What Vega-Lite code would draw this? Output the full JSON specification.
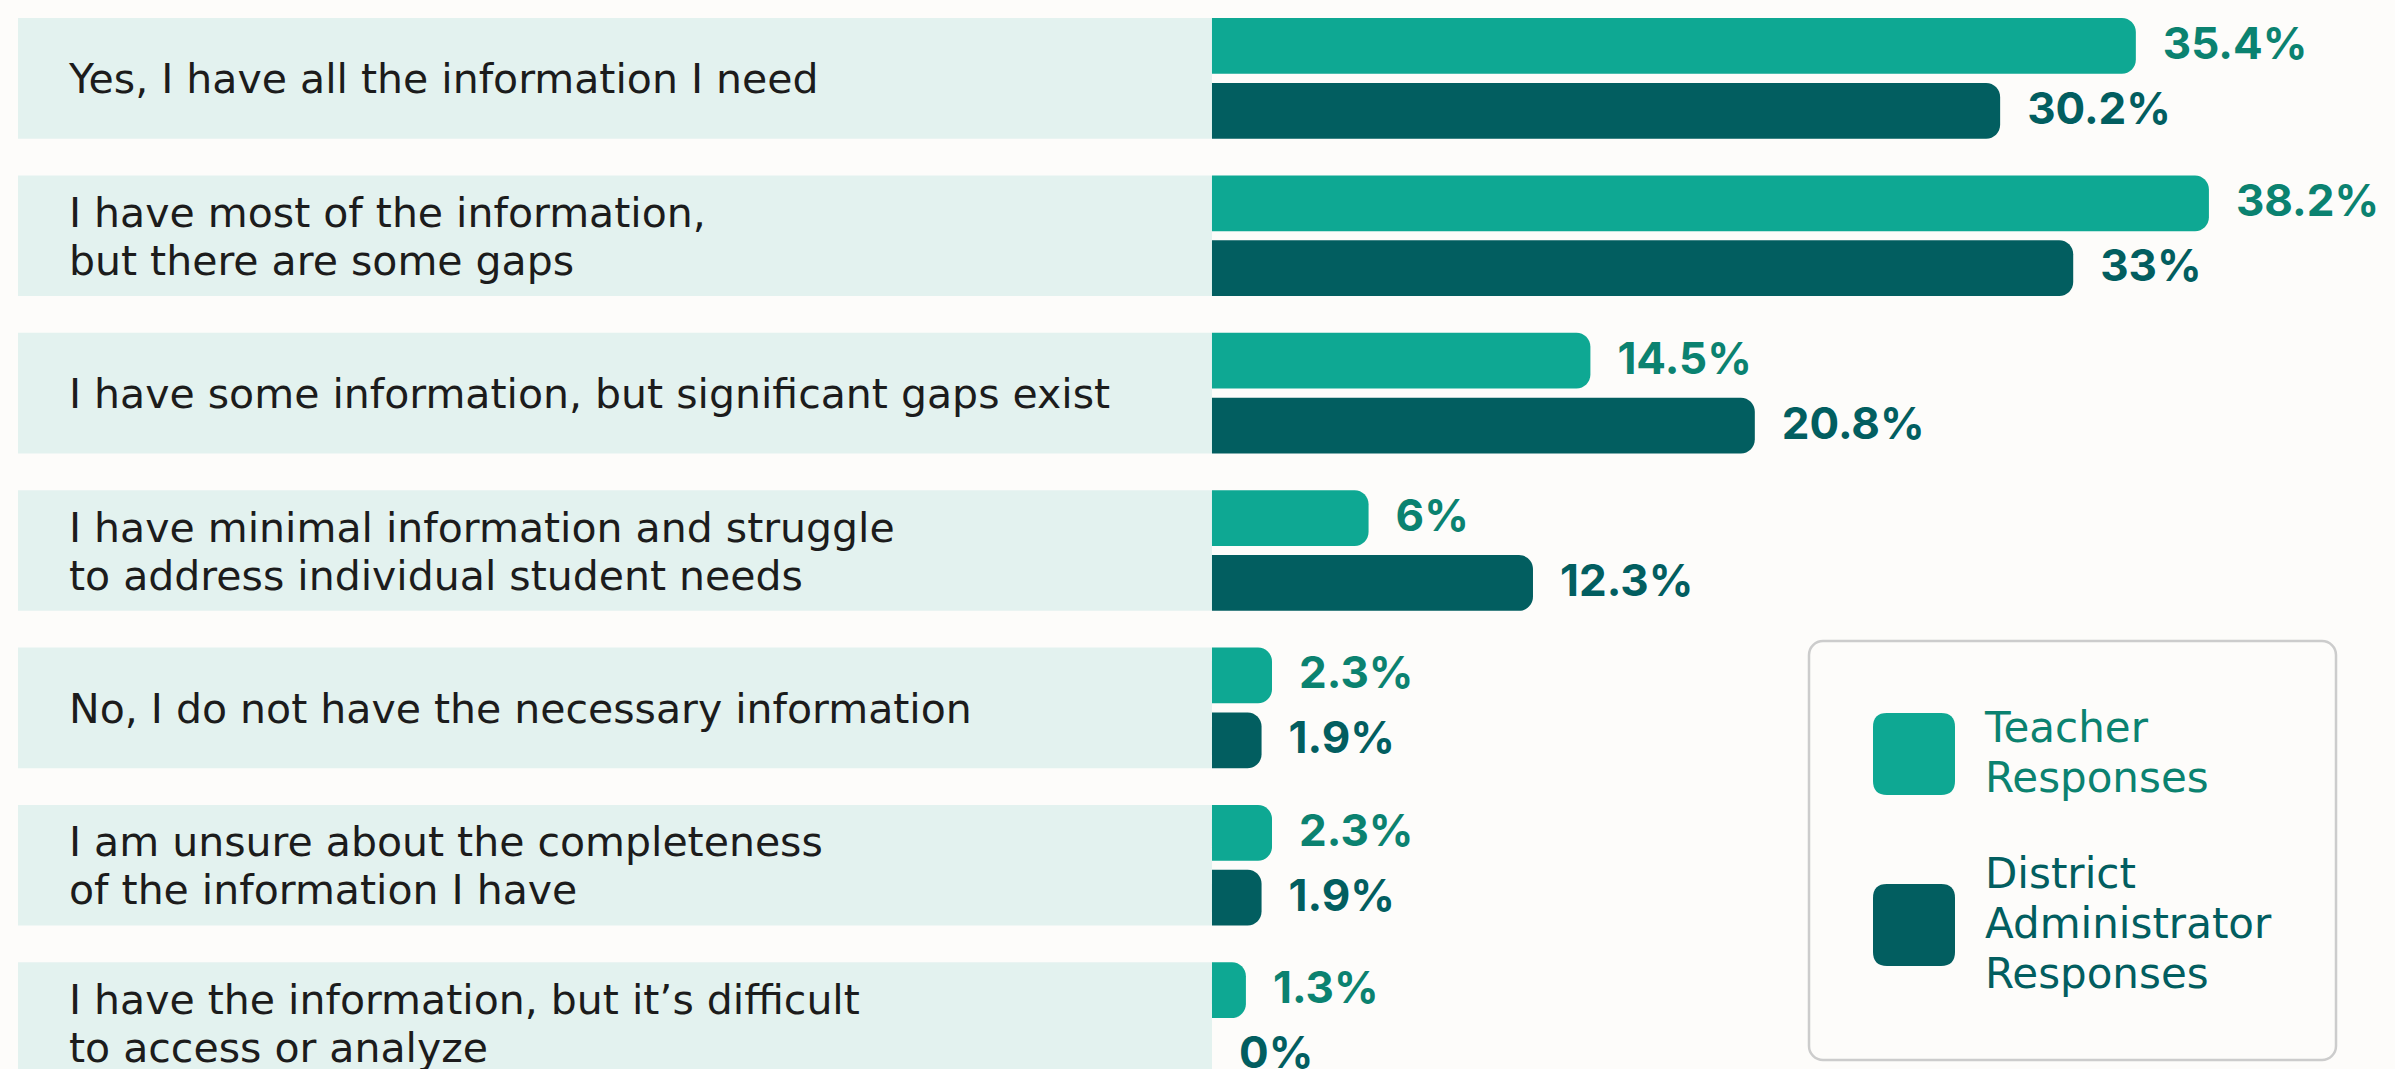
{
  "$schema": "https://vega.github.io/schema/vega-lite/v6.json",
  "width": 2377,
  "height": 1065,
  "padding": {"left": 18, "top": 18, "right": 0, "bottom": 0},
  "background": "#fdfcfa",
  "config": {"view": {"stroke": null}, "font": "Inter"},
  "data": {
    "values": [
      {"category": "Yes, I have all the information I need", "series": "Teacher Responses", "value": 35.4, "label": "35.4%"},
      {"category": "Yes, I have all the information I need", "series": "District Administrator Responses", "value": 30.2, "label": "30.2%"},
      {"category": "I have most of the information,\nbut there are some gaps", "series": "Teacher Responses", "value": 38.2, "label": "38.2%"},
      {"category": "I have most of the information,\nbut there are some gaps", "series": "District Administrator Responses", "value": 33, "label": "33%"},
      {"category": "I have some information, but significant gaps exist", "series": "Teacher Responses", "value": 14.5, "label": "14.5%"},
      {"category": "I have some information, but significant gaps exist", "series": "District Administrator Responses", "value": 20.8, "label": "20.8%"},
      {"category": "I have minimal information and struggle\nto address individual student needs", "series": "Teacher Responses", "value": 6, "label": "6%"},
      {"category": "I have minimal information and struggle\nto address individual student needs", "series": "District Administrator Responses", "value": 12.3, "label": "12.3%"},
      {"category": "No, I do not have the necessary information", "series": "Teacher Responses", "value": 2.3, "label": "2.3%"},
      {"category": "No, I do not have the necessary information", "series": "District Administrator Responses", "value": 1.9, "label": "1.9%"},
      {"category": "I am unsure about the completeness\nof the information I have", "series": "Teacher Responses", "value": 2.3, "label": "2.3%"},
      {"category": "I am unsure about the completeness\nof the information I have", "series": "District Administrator Responses", "value": 1.9, "label": "1.9%"},
      {"category": "I have the information, but it’s difficult\nto access or analyze", "series": "Teacher Responses", "value": 1.3, "label": "1.3%"},
      {"category": "I have the information, but it’s difficult\nto access or analyze", "series": "District Administrator Responses", "value": 0, "label": "0%"}
    ]
  },
  "encoding": {
    "y": {
      "field": "category",
      "type": "nominal",
      "sort": null,
      "axis": null,
      "scale": {"paddingInner": 0.233, "paddingOuter": 0}
    }
  },
  "layer": [
    {
      "transform": [{"filter": "datum.series === 'Teacher Responses'"}],
      "mark": {"type": "bar", "color": "#e3f2ef"},
      "encoding": {
        "x": {"datum": -45.75, "type": "quantitative", "scale": {"domain": [-45.75, 45.33], "nice": false, "zero": false}, "axis": null},
        "x2": {"datum": 0}
      }
    },
    {
      "transform": [{"filter": "datum.series === 'Teacher Responses' && indexof(datum.category, '\\n') < 0"}],
      "mark": {"type": "text", "align": "left", "baseline": "middle", "dx": 51, "dy": 3, "font": "DejaVu Sans", "fontSize": 41, "color": "#1c1c1c"},
      "encoding": {
        "x": {"datum": -45.75, "type": "quantitative"},
        "text": {"field": "category", "type": "nominal"}
      }
    },
    {
      "transform": [{"filter": "datum.series === 'Teacher Responses' && indexof(datum.category, '\\n') >= 0"}],
      "mark": {"type": "text", "align": "left", "baseline": "middle", "dx": 51, "dy": -21, "font": "DejaVu Sans", "fontSize": 41, "lineHeight": 48, "lineBreak": "\n", "color": "#1c1c1c"},
      "encoding": {
        "x": {"datum": -45.75, "type": "quantitative"},
        "text": {"field": "category", "type": "nominal"}
      }
    },
    {
      "mark": {"type": "bar", "cornerRadiusEnd": 14},
      "encoding": {
        "x": {"field": "value", "type": "quantitative", "stack": null},
        "yOffset": {"field": "series", "type": "nominal", "scale": {"domain": ["Teacher Responses", "District Administrator Responses"], "paddingInner": 0.14, "paddingOuter": 0}},
        "color": {
          "field": "series",
          "type": "nominal",
          "scale": {"domain": ["Teacher Responses", "District Administrator Responses"], "range": ["#0ea893", "#025e60"]},
          "legend": {
            "title": " ",
            "titleFontSize": 1,
            "titlePadding": 7,
            "orient": "none",
            "legendX": 1791,
            "legendY": 623,
            "direction": "vertical",
            "fillColor": "#fdfcfa",
            "strokeColor": "#cccccc",
            "cornerRadius": 14,
            "padding": 64,
            "rowPadding": 54,
            "labelFont": "DejaVu Sans",
            "labelFontSize": 42,
            "labelOffset": 30,
            "labelLimit": 800,
            "labelExpr": "datum.value === 'Teacher Responses' ? ['Teacher', 'Responses'] : ['District', 'Administrator', 'Responses']",
            "symbolType": "M-0.66,-1L0.66,-1Q1,-1 1,-0.66L1,0.66Q1,1 0.66,1L-0.66,1Q-1,1 -1,0.66L-1,-0.66Q-1,-1 -0.66,-1Z",
            "symbolSize": 6724,
            "symbolStrokeWidth": 0,
            "symbolOpacity": 1,
            "encoding": {
              "labels": {
                "lineHeight": {"value": 50},
                "dy": {"condition": {"test": "datum.value === 'Teacher Responses'", "value": -25}, "value": -50},
                "fill": {"condition": {"test": "datum.value === 'Teacher Responses'", "value": "#0b8270"}, "value": "#025e60"}
              },
              "legend": {"strokeWidth": {"value": 2.5}}
            }
          }
        }
      }
    },
    {
      "mark": {"type": "text", "align": "left", "baseline": "middle", "dx": 27, "font": "Inter", "fontSize": 44, "fontWeight": "bold"},
      "encoding": {
        "x": {"field": "value", "type": "quantitative"},
        "yOffset": {"field": "series", "type": "nominal"},
        "text": {"field": "label", "type": "nominal"},
        "color": {
          "field": "series",
          "type": "nominal",
          "scale": {"domain": ["Teacher Responses", "District Administrator Responses"], "range": ["#0b8270", "#025e60"]},
          "legend": null
        }
      }
    }
  ],
  "resolve": {"scale": {"color": "independent"}}
}
